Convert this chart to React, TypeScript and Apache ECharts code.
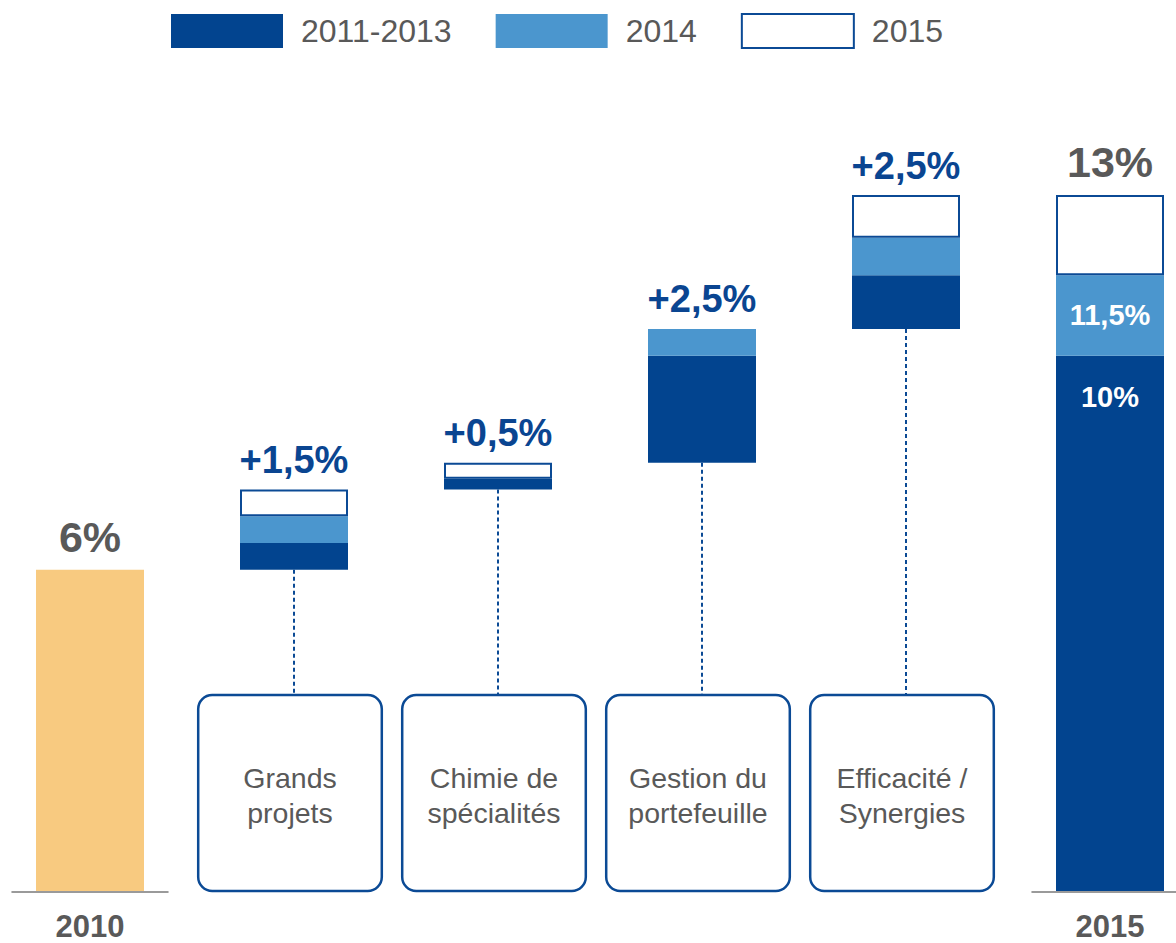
import React, { useEffect, useRef } from "react";
import * as echarts from "echarts";

const categories = ["2010", "Grands projets", "Chimie de spécialités", "Gestion du portefeuille", "Efficacité / Synergies", "2015"];
const axisLabels = ["2010", "", "", "", "", "2015"];
const boxLabels = ["", "Grands\nprojets", "Chimie de\nspécialités", "Gestion du\nportefeuille", "Efficacité /\nSynergies", ""];
const baseValues = [0, 6, 7.5, 8, 10.5, 0];
const start2010 = [6, 0, 0, 0, 0, 0];
const seg20112013 = [0, 0.5, 0.2, 2, 1, 10];
const seg2014 = [0, 0.5, 0, 0.5, 0.7, 1.5];
const seg2015: (number | null)[] = [null, 0.5, 0.3, null, 0.8, 1.5];
const topLabels = ["6%", "+1,5%", "+0,5%", "+2,5%", "+2,5%", "13%"];
const darkInnerLabels = ["", "", "", "", "", "10%"];
const lightInnerLabels = ["", "", "", "", "", "11,5%"];
const boxTopValue = 3.66;

const FONT = "'Liberation Sans', Arial, sans-serif";
const DARK = "#02448F";
const LIGHT = "#4B96CE";
const ORANGE = "#F8CA80";
const BORDER = "#0B4A95";
const GRAY = "#595959";

export default function App() {
  const ref = useRef<HTMLDivElement>(null);
  useEffect(() => {
    if (!ref.current) return;
    const chart = echarts.init(ref.current, undefined, { renderer: "svg" });
    const totals = categories.map(
      (_, i) => baseValues[i] + start2010[i] + seg20112013[i] + seg2014[i] + (seg2015[i] ?? 0)
    );
    const isEnd = (i: number) => i === 0 || i === categories.length - 1;
    const barWidth = 108;

    const option: any = {
      animation: false,
      textStyle: { fontFamily: FONT },
      legend: {
        data: ["2011-2013", "2014", "2015"],
        left: 171,
        top: 13,
        padding: 0,
        itemWidth: 112,
        itemHeight: 34,
        itemGap: 44,
        icon: "rect",
        textStyle: { fontSize: 32, color: GRAY, fontFamily: FONT, padding: [0, 0, 0, 13] },
      },
      grid: { left: -12, right: -36, top: 141.5, bottom: 52, outerBoundsMode: "none" },
      xAxis: {
        type: "category",
        data: categories,
        axisLine: { show: false },
        axisTick: { show: false },
        splitLine: { show: false },
        axisLabel: {
          interval: 0,
          formatter: (_v: string, i: number) => axisLabels[i],
          fontSize: 31,
          lineHeight: 31,
          fontWeight: "bold",
          color: GRAY,
          fontFamily: FONT,
          margin: 20,
        },
      },
      yAxis: { type: "value", min: 0, max: 14, show: false },
      series: [
        {
          name: "base",
          type: "bar",
          stack: "w",
          barWidth,
          silent: true,
          itemStyle: { color: "transparent" },
          data: baseValues,
        },
        {
          name: "2010",
          type: "bar",
          stack: "w",
          barWidth,
          itemStyle: { color: ORANGE },
          data: start2010,
        },
        {
          name: "2011-2013",
          type: "bar",
          stack: "w",
          barWidth,
          itemStyle: { color: DARK },
          label: {
            show: true,
            position: "insideTop",
            distance: 27,
            formatter: (p: any) => darkInnerLabels[p.dataIndex],
            color: "#fff",
            fontSize: 29,
            fontWeight: "bold",
            fontFamily: FONT,
          },
          data: seg20112013,
        },
        {
          name: "2014",
          type: "bar",
          stack: "w",
          barWidth,
          itemStyle: { color: LIGHT },
          label: {
            show: true,
            position: "inside",
            formatter: (p: any) => lightInnerLabels[p.dataIndex],
            color: "#fff",
            fontSize: 29,
            fontWeight: "bold",
            fontFamily: FONT,
          },
          data: seg2014,
        },
        {
          name: "2015",
          type: "bar",
          stack: "w",
          barWidth,
          itemStyle: { color: "#ffffff", borderColor: BORDER, borderWidth: 2 },
          data: seg2015.map((v) => (v == null ? "-" : v)),
        },
        {
          name: "topLabels",
          type: "scatter",
          symbolSize: 1,
          itemStyle: { color: "transparent", opacity: 1 },
          silent: true,
          z: 10,
          data: totals.map((t, i) => ({
            value: t,
            label: {
              show: true,
              position: "top",
              distance: isEnd(i) ? 11 : 10,
              formatter: topLabels[i],
              color: isEnd(i) ? GRAY : "#0A4591",
              fontSize: isEnd(i) ? 43 : 38,
              fontWeight: "bold",
              fontFamily: FONT,
            },
          })),
        },
        {
          name: "baseline",
          type: "custom",
          silent: true,
          data: [0, categories.length - 1].map((i) => [i, 0]),
          renderItem: (params: any, api: any) => {
            const p = api.coord([api.value(0), 0]);
            const bw = api.size([1, 0])[0];
            return {
              type: "line",
              shape: { x1: p[0] - bw * 0.385, y1: p[1] + 1, x2: p[0] + bw * 0.385, y2: p[1] + 1 },
              style: { stroke: "#9a9a9a", lineWidth: 2 },
            };
          },
        },
        {
          name: "connectors",
          type: "custom",
          silent: true,
          data: categories.map((_, i) => [i, baseValues[i]]).filter((_, i) => !isEnd(i)),
          renderItem: (params: any, api: any) => {
            const a = api.coord([api.value(0), api.value(1)]);
            const b = api.coord([api.value(0), boxTopValue]);
            return {
              type: "line",
              shape: { x1: a[0], y1: a[1], x2: b[0], y2: b[1] },
              style: { stroke: BORDER, lineWidth: 2, lineDash: [4, 3] },
            };
          },
        },
        {
          name: "boxes",
          type: "custom",
          silent: true,
          z: 5,
          data: categories.map((_, i) => [i]).filter((_, i) => !isEnd(i)),
          renderItem: (params: any, api: any) => {
            const idx = api.value(0);
            const t = api.coord([idx, boxTopValue]);
            const b = api.coord([idx, 0]);
            const bw = api.size([1, 0])[0];
            const w = bw * 0.9;
            const cx = t[0] - 4;
            return {
              type: "group",
              children: [
                {
                  type: "rect",
                  shape: { x: cx - w / 2, y: t[1], width: w, height: b[1] - t[1], r: 14 },
                  style: { fill: "#fff", stroke: BORDER, lineWidth: 2.5 },
                },
                {
                  type: "text",
                  x: cx,
                  y: (t[1] + b[1]) / 2 + 2,
                  style: {
                    text: boxLabels[idx],
                    align: "center",
                    verticalAlign: "middle",
                    fontSize: 28.5,
                    lineHeight: 35,
                    fontFamily: FONT,
                    fill: GRAY,
                  },
                },
              ],
            };
          },
        },
      ],
    };
    chart.setOption(option);
    return () => chart.dispose();
  }, []);
  return (
    <div
      ref={ref}
      style={{ position: "fixed", left: 0, top: 0, width: 1176, height: 943, background: "#fff" }}
    />
  );
}
